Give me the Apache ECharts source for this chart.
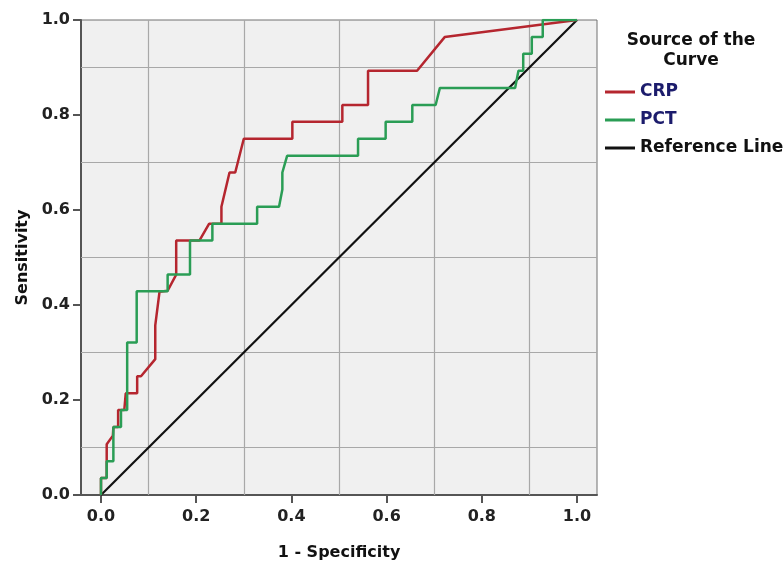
<!DOCTYPE html>
<html>
<head>
<meta charset="utf-8">
<script src="https://cdn.jsdelivr.net/npm/echarts@6/dist/echarts.min.js"></script>
<style>
html,body{margin:0;padding:0;background:#fff;}
#chart{width:783px;height:562px;}
</style>
</head>
<body>
<div id="chart"></div>
<script>
// ROC curve data (1 - Specificity, Sensitivity)
const crpPoints = [
  [0,0],[0,0.036],[0.012,0.036],[0.012,0.107],[0.025,0.125],[0.026,0.143],
  [0.036,0.143],[0.036,0.179],[0.049,0.179],[0.052,0.214],[0.076,0.214],
  [0.076,0.25],[0.084,0.25],[0.114,0.286],[0.114,0.357],[0.123,0.428],
  [0.14,0.43],[0.158,0.464],[0.158,0.536],[0.207,0.536],[0.227,0.571],
  [0.253,0.571],[0.253,0.607],[0.27,0.679],[0.282,0.679],[0.3,0.75],
  [0.402,0.75],[0.402,0.786],[0.507,0.786],[0.507,0.821],[0.561,0.821],
  [0.561,0.893],[0.664,0.893],[0.722,0.964],[1,1]
];
const pctPoints = [
  [0,0],[0,0.036],[0.012,0.036],[0.012,0.071],[0.026,0.071],[0.026,0.143],
  [0.042,0.143],[0.042,0.179],[0.055,0.179],[0.055,0.321],[0.075,0.321],
  [0.075,0.429],[0.14,0.429],[0.14,0.464],[0.187,0.464],[0.187,0.536],
  [0.234,0.536],[0.234,0.571],[0.328,0.571],[0.328,0.607],[0.374,0.607],
  [0.381,0.643],[0.381,0.679],[0.391,0.714],[0.54,0.714],[0.54,0.75],
  [0.598,0.75],[0.598,0.786],[0.654,0.786],[0.654,0.821],[0.703,0.821],
  [0.712,0.857],[0.87,0.857],[0.877,0.893],[0.887,0.893],[0.887,0.929],
  [0.905,0.929],[0.905,0.964],[0.928,0.964],[0.928,1],[1,1]
];
const referencePoints = [[0,0],[1,1]];
const tickValues = [0,0.2,0.4,0.6,0.8,1.0];
const gridXValues = [0.1,0.3,0.5,0.7,0.9];
const gridYValues = [0.1,0.3,0.5,0.7,0.9];
const seriesNames = ['CRP','PCT','Reference Line'];
const legendTitle = 'Source of the\nCurve';
const xAxisTitle = '1 - Specificity';
const yAxisTitle = 'Sensitivity';

const FONT = '"DejaVu Sans", "Liberation Sans", sans-serif';
const chart = echarts.init(document.getElementById('chart'), null, {renderer:'canvas'});

const gridMarks = gridXValues.map(v => ({xAxis: v})).concat(gridYValues.map(v => ({yAxis: v})));

const option = {
  animation: false,
  backgroundColor: '#ffffff',
  grid: {
    left: 81, top: 20, width: 516, height: 475,
    outerBoundsMode: 'none', containLabel: false,
    show: true, backgroundColor: '#f0f0f0', borderColor: '#707070', borderWidth: 1
  },
  graphic: [{
    type: 'text',
    style: {
      text: legendTitle, x: 691, y: 31, textAlign: 'center',
      font: 'bold 17px ' + FONT, lineHeight: 20, fill: '#111'
    }
  }],
  legend: {
    orient: 'vertical', left: 600, top: 77,
    itemWidth: 30, itemHeight: 3, itemGap: 8, icon: 'rect',
    textStyle: {fontFamily: FONT, fontWeight: 'bold', fontSize: 17, lineHeight: 20, color: '#111'},
    data: [
      {name: seriesNames[0], textStyle: {color: '#1c1c6c'}},
      {name: seriesNames[1], textStyle: {color: '#1c1c6c'}},
      {name: seriesNames[2], textStyle: {color: '#111'}}
    ]
  },
  xAxis: {
    type: 'value', min: -0.042, max: 1.042,
    name: xAxisTitle, nameLocation: 'middle', nameGap: 50,
    nameTextStyle: {fontFamily: FONT, fontWeight: 'bold', fontSize: 16, color: '#111'},
    splitLine: {show: false},
    axisLine: {show: true, onZero: false, lineStyle: {color: '#555', width: 2}},
    axisTick: {show: true, customValues: tickValues, length: 8, lineStyle: {color: '#555', width: 2}},
    axisLabel: {customValues: tickValues, margin: 14, fontFamily: FONT, fontWeight: 'bold', fontSize: 16, color: '#222',
      formatter: v => v.toFixed(1)}
  },
  yAxis: {
    type: 'value', min: 0, max: 1, interval: 0.2,
    name: yAxisTitle, nameLocation: 'middle', nameGap: 47, nameRotate: 90,
    nameTextStyle: {fontFamily: FONT, fontWeight: 'bold', fontSize: 16, color: '#111'},
    splitLine: {show: false},
    axisLine: {show: true, onZero: false, lineStyle: {color: '#555', width: 2}},
    axisTick: {show: true, length: 8, lineStyle: {color: '#555', width: 2}},
    axisLabel: {margin: 11, fontFamily: FONT, fontWeight: 'bold', fontSize: 16, color: '#222',
      formatter: v => v.toFixed(1)}
  },
  series: [
    {
      name: seriesNames[2], type: 'line', data: referencePoints, symbol: 'none', z: 3,
      color: '#111', lineStyle: {color: '#111', width: 2.2},
      markLine: {
        silent: true, symbol: 'none', z: 1, animation: false,
        label: {show: false},
        lineStyle: {color: '#a8a8a8', width: 1.2, type: 'solid'},
        emphasis: {disabled: true},
        data: gridMarks
      }
    },
    {
      name: seriesNames[0], type: 'line', data: crpPoints, symbol: 'none', z: 4,
      color: '#b5262f', lineStyle: {color: '#b5262f', width: 2.5}
    },
    {
      name: seriesNames[1], type: 'line', data: pctPoints, symbol: 'none', z: 5,
      color: '#2a9d55', lineStyle: {color: '#2a9d55', width: 2.5}
    }
  ]
};
chart.setOption(option);
</script>
</body>
</html>
